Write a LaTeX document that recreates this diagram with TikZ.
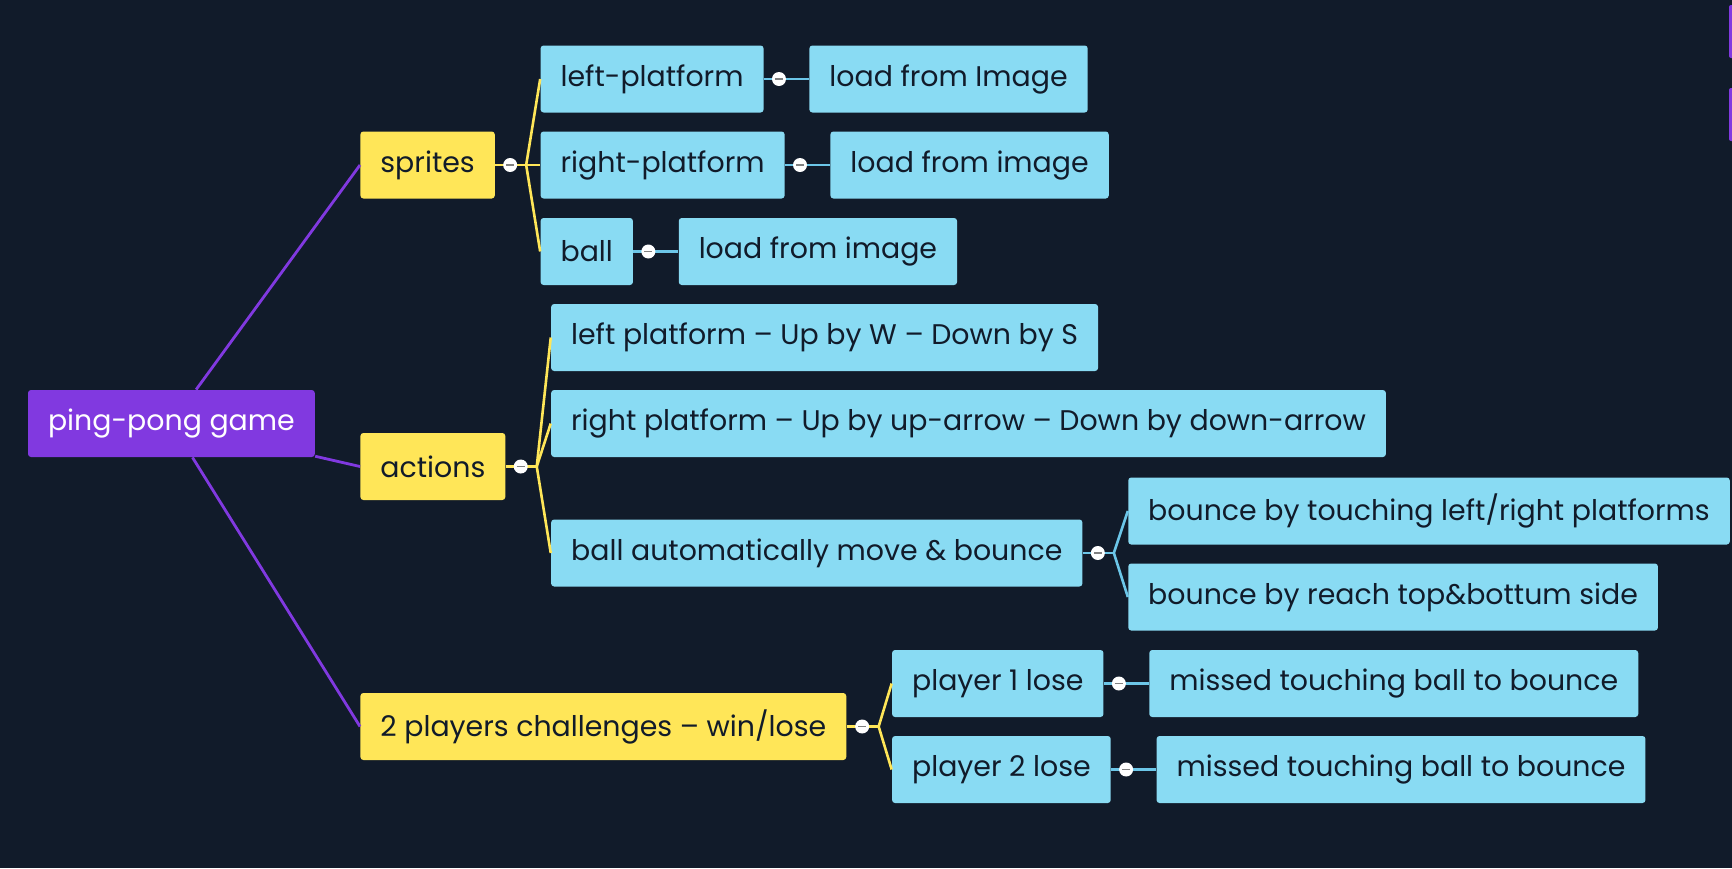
\documentclass[tikz,border=0pt]{standalone}
\usepackage{fontspec}
\setmainfont{Poppins}
\usepackage{xcolor}
\usetikzlibrary{positioning}

\definecolor{bgnavy}{HTML}{111B2A}
\definecolor{rootpurple}{HTML}{8139E0}
\definecolor{topicyellow}{HTML}{FFE658}
\definecolor{leafblue}{HTML}{89DBF3}
\definecolor{linkblue}{HTML}{6CC6E8}

\tikzset{
    topic/.style={rectangle, rounded corners=1.5pt, anchor=west,
        minimum height=33.5pt, inner xsep=10pt, inner ysep=0pt,
        font=\fontsize{14.2}{17}\selectfont, text=bgnavy},
    rootbox/.style={topic, fill=rootpurple, text=white},
    branch/.style={topic, fill=topicyellow},
    leaf/.style={topic, fill=leafblue},
    fold/.style={circle, fill=white, minimum size=7pt, inner sep=0pt,
        path picture={\draw[gray, line width=0.9pt]
            ([xshift=-2pt]path picture bounding box.center) --
            ([xshift=2pt]path picture bounding box.center);}},
    plink/.style={draw=rootpurple, line width=1.4pt},
    ylink/.style={draw=topicyellow, line width=1.3pt},
    blink/.style={draw=linkblue, line width=1.3pt},
}

\begin{document}
\begin{tikzpicture}[x=0.5pt, y=-0.5pt]
    \fill[bgnavy] (0,0) rectangle (1732,868);
    \useasboundingbox (0,0) rectangle (1732,868);
    % cut-off bits at the right edge
    \fill[rootpurple, rounded corners=1pt] (1729,5) rectangle (1740,58);
    \fill[rootpurple, rounded corners=1pt] (1729,88) rectangle (1740,141);

    \node[rootbox] (root) at (27.6,423.5) {ping-pong game};

    \node[branch] (sprites) at (360,165) {sprites};
    \node[branch] (actions) at (360,466.5) {actions};
    \node[branch] (players) at (360,726.5) {2 players challenges – win/lose};

    % sprites
    \node[leaf] (leftp) at ([shift={(45,-86)}]sprites.east) {left-platform};
    \node[leaf] (rightp) at ([shift={(45,0)}]sprites.east) {right-platform};
    \node[leaf] (ball) at ([shift={(45,86.5)}]sprites.east) {ball};
    \node[leaf] (leftimg) at ([shift={(45,0)}]leftp.east) {load from Image};
    \node[leaf] (rightimg) at ([shift={(45,0)}]rightp.east) {load from image};
    \node[leaf] (ballimg) at ([shift={(45,0)}]ball.east) {load from image};

    % actions
    \node[leaf] (moveleft) at ([shift={(45,-129)}]actions.east) {left platform – Up by W – Down by S};
    \node[leaf] (moveright) at ([shift={(45,-43)}]actions.east) {right platform – Up by up-arrow – Down by down-arrow};
    \node[leaf] (automove) at ([shift={(45,86.5)}]actions.east) {ball automatically move \& bounce};
    \node[leaf] (touch) at ([shift={(45,-42)}]automove.east) {bounce by touching left/right platforms};
    \node[leaf] (reach) at ([shift={(45,44)}]automove.east) {bounce by reach top\&bottum side};

    % players
    \node[leaf] (loseone) at ([shift={(45,-43)}]players.east) {player 1 lose};
    \node[leaf] (losetwo) at ([shift={(45,43)}]players.east) {player 2 lose};
    \node[leaf] (missone) at ([shift={(45,0)}]loseone.east) {missed touching ball to bounce};
    \node[leaf] (misstwo) at ([shift={(45,0)}]losetwo.east) {missed touching ball to bounce};

    % root -> branches
    \draw[plink] (root) -- (sprites.west);
    \draw[plink] (root) -- (actions.west);
    \draw[plink] (root) -- (players.west);

    % junctions
    \coordinate (jsprites) at ([shift={(31,0)}]sprites.east);
    \coordinate (jactions) at ([shift={(31,0)}]actions.east);
    \coordinate (jplayers) at ([shift={(32,0)}]players.east);
    \coordinate (jauto) at ([shift={(31,0)}]automove.east);

    % sprites -> children
    \draw[ylink] (sprites.east) -- (jsprites);
    \draw[ylink] (jsprites) -- (leftp.west);
    \draw[ylink] (jsprites) -- (rightp.west);
    \draw[ylink] (jsprites) -- (ball.west);

    % actions -> children
    \draw[ylink] (actions.east) -- (jactions);
    \draw[ylink] (jactions) -- (moveleft.west);
    \draw[ylink] (jactions) -- (moveright.west);
    \draw[ylink] (jactions) -- (automove.west);

    % players -> children
    \draw[ylink] (players.east) -- (jplayers);
    \draw[ylink] (jplayers) -- (loseone.west);
    \draw[ylink] (jplayers) -- (losetwo.west);

    % leaves -> leaves
    \draw[blink] (leftp.east) -- (leftimg.west);
    \draw[blink] (rightp.east) -- (rightimg.west);
    \draw[blink] (ball.east) -- (ballimg.west);
    \draw[blink] (automove.east) -- (jauto);
    \draw[blink] (jauto) -- (touch.west);
    \draw[blink] (jauto) -- (reach.west);
    \draw[blink] (loseone.east) -- (missone.west);
    \draw[blink] (losetwo.east) -- (misstwo.west);

    % fold buttons
    \node[fold] (fsprites) at ([shift={(15,0)}]sprites.east) {};
    \node[fold] (factions) at ([shift={(15,0)}]actions.east) {};
    \node[fold] (fplayers) at ([shift={(15.5,0)}]players.east) {};
    \node[fold] (fleftp) at ([shift={(15,0)}]leftp.east) {};
    \node[fold] (frightp) at ([shift={(15,0)}]rightp.east) {};
    \node[fold] (fball) at ([shift={(15,0)}]ball.east) {};
    \node[fold] (fauto) at ([shift={(15,0)}]automove.east) {};
    \node[fold] (floseone) at ([shift={(15,0)}]loseone.east) {};
    \node[fold] (flosetwo) at ([shift={(15,0)}]losetwo.east) {};
\end{tikzpicture}
\end{document}
